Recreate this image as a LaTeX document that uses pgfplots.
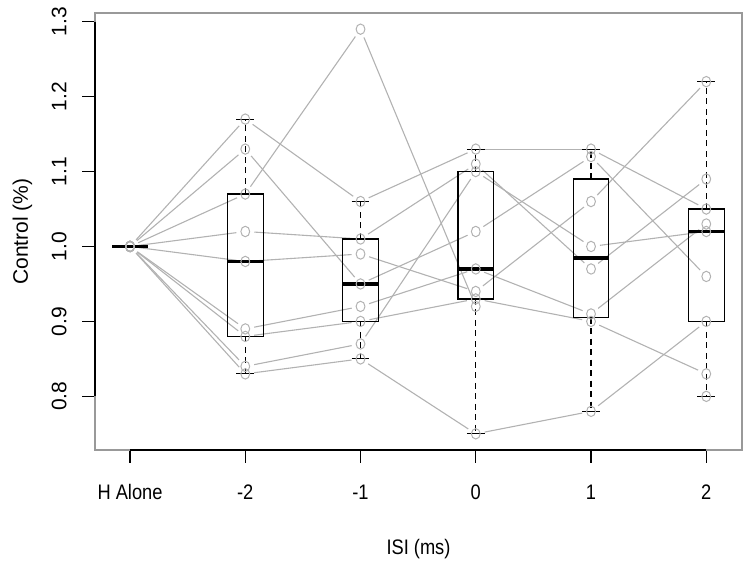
\documentclass[border=0pt]{standalone}
\usepackage{pgfplots}
\pgfplotsset{compat=1.18}
\usepackage{pgfplotstable}
\usepgfplotslibrary{statistics}
\usetikzlibrary{calc}
\usepackage{fontspec}
\setmainfont{Liberation Sans}
\newfontfamily\narrow{Liberation Sans}[FakeStretch=0.87]

\definecolor{rgray}{RGB}{178,178,178}

% one row per subject; columns: H Alone, -2, -1, 0, 1, 2
\pgfplotstableread{
s  g1   g2   g3   g4   g5   g6
1  1.00 1.17 1.06 1.13 1.13 1.05
2  1.00 1.13 0.95 1.02 1.12 0.96
3  1.00 1.07 1.29 0.92 nan  0.80
4  1.00 1.02 1.01 1.11 0.97 1.09
5  1.00 0.98 0.99 0.94 1.06 1.22
6  1.00 0.89 0.92 0.97 0.91 1.03
7  1.00 0.88 0.90 0.93 0.90 0.83
8  1.00 0.84 0.87 1.10 1.00 1.02
9  1.00 0.83 0.85 0.75 0.78 0.90
}\subj

\begin{document}
\fontsize{21bp}{25bp}\selectfont
\begin{tikzpicture}
\begin{axis}[
  name=ax,
  scale only axis,
  width=647bp, height=437bp,
  xmin=0.696, xmax=6.31,
  ymin=0.7284, ymax=1.3116,
  clip=false,
  xtick={1,2,3,4,5,6},
  xticklabels={H Alone,-2,-1,0,1,2},
  ytick={0.8,0.9,1.0,1.1,1.2,1.3},
  /pgf/number format/assume math mode=true,
  yticklabel style={/pgf/number format/fixed, /pgf/number format/fixed zerofill,
    /pgf/number format/precision=1, xshift=-16bp, rotate=90, anchor=base},
  xticklabel style={font=\narrow, anchor=base},
  xticklabel shift=37bp,
  tick align=outside,
  xtick pos=bottom, ytick pos=left,
  major tick length=12.5bp,
  tick style={black, line width=1.1bp},
  axis line style={draw=gray!80, line width=1.1bp},
  xlabel={\narrow ISI (ms)},
  ylabel={Control (\%)},
  xlabel style={at={(axis description cs:0.5,-0.238)}, anchor=base},
  ylabel style={at={(axis description cs:-0.1036,0.5)}, anchor=base},
  boxplot/draw direction=y,
  boxplot/every box/.style={line width=1.2bp},
  boxplot/every median/.style={line width=3.6bp},
  boxplot/draw/lower whisker/.code={
    \draw[black, line width=1.1bp, dash pattern=on 6bp off 4.5bp]
      (boxplot box cs:\pgfplotsboxplotvalue{lower quartile},0.5) --
      (boxplot box cs:\pgfplotsboxplotvalue{lower whisker},0.5);
    \draw[black, line width=1.1bp]
      (boxplot whisker cs:\pgfplotsboxplotvalue{lower whisker},0) --
      (boxplot whisker cs:\pgfplotsboxplotvalue{lower whisker},1);
  },
  boxplot/draw/upper whisker/.code={
    \draw[black, line width=1.1bp, dash pattern=on 6bp off 4.5bp]
      (boxplot box cs:\pgfplotsboxplotvalue{upper quartile},0.5) --
      (boxplot box cs:\pgfplotsboxplotvalue{upper whisker},0.5);
    \draw[black, line width=1.1bp]
      (boxplot whisker cs:\pgfplotsboxplotvalue{upper whisker},0) --
      (boxplot whisker cs:\pgfplotsboxplotvalue{upper whisker},1);
  },
  seg/.style={rgray, line width=1.1bp, no markers,
    quiver/every arrow/.append style={-, shorten <=9bp, shorten >=9bp}},
]
% subject lines, one segment between each pair of neighbouring conditions
\addplot[seg, quiver={u=1, v=\thisrow{g2}-\thisrow{g1}}] table[x expr=1, y=g1] {\subj};
\addplot[seg, quiver={u=1, v=\thisrow{g3}-\thisrow{g2}}] table[x expr=2, y=g2] {\subj};
\addplot[seg, quiver={u=1, v=\thisrow{g4}-\thisrow{g3}}] table[x expr=3, y=g3] {\subj};
\addplot[seg, skip coords between index={2}{3},
  quiver={u=1, v=\thisrow{g5}-\thisrow{g4}}] table[x expr=4, y=g4] {\subj};
\addplot[seg, skip coords between index={2}{3},
  quiver={u=1, v=\thisrow{g6}-\thisrow{g5}}] table[x expr=5, y=g5] {\subj};

% points
\pgfplotsinvokeforeach{1,...,6}{
  \addplot[only marks, mark=o, mark size=5.2bp, rgray,
    mark options={line width=1bp, xscale=0.85}] table[x expr=#1, y=g#1] {\subj};
}

% boxes (R hinges)
\addplot[black, boxplot prepared={draw position=1, lower whisker=1.0, lower quartile=1.0,
  median=1.0, upper quartile=1.0, upper whisker=1.0, box extend=0.31, whisker extend=0.155}]
  coordinates {};
\addplot[black, boxplot prepared={draw position=2, lower whisker=0.83, lower quartile=0.88,
  median=0.98, upper quartile=1.07, upper whisker=1.17, box extend=0.31, whisker extend=0.155}]
  coordinates {};
\addplot[black, boxplot prepared={draw position=3, lower whisker=0.85, lower quartile=0.90,
  median=0.95, upper quartile=1.01, upper whisker=1.06, box extend=0.31, whisker extend=0.155}]
  coordinates {};
\addplot[black, boxplot prepared={draw position=4, lower whisker=0.75, lower quartile=0.93,
  median=0.97, upper quartile=1.10, upper whisker=1.13, box extend=0.31, whisker extend=0.155}]
  coordinates {};
\addplot[black, boxplot prepared={draw position=5, lower whisker=0.78, lower quartile=0.905,
  median=0.985, upper quartile=1.09, upper whisker=1.13, box extend=0.31, whisker extend=0.155}]
  coordinates {};
\addplot[black, boxplot prepared={draw position=6, lower whisker=0.80, lower quartile=0.90,
  median=1.02, upper quartile=1.05, upper whisker=1.22, box extend=0.31, whisker extend=0.155}]
  coordinates {};

% R axis lines, from first to last tick
\addplot[black, line width=1.3bp] coordinates {(1,0.7284) (6,0.7284)};
\addplot[black, line width=1.3bp] coordinates {(0.696,0.8) (0.696,1.3)};
\end{axis}
\pgfresetboundingbox
\path[use as bounding box] ($(ax.south west)+(-95bp,-116bp)$) rectangle ($(ax.north east)+(9bp,13bp)$);
\end{tikzpicture}
\end{document}
